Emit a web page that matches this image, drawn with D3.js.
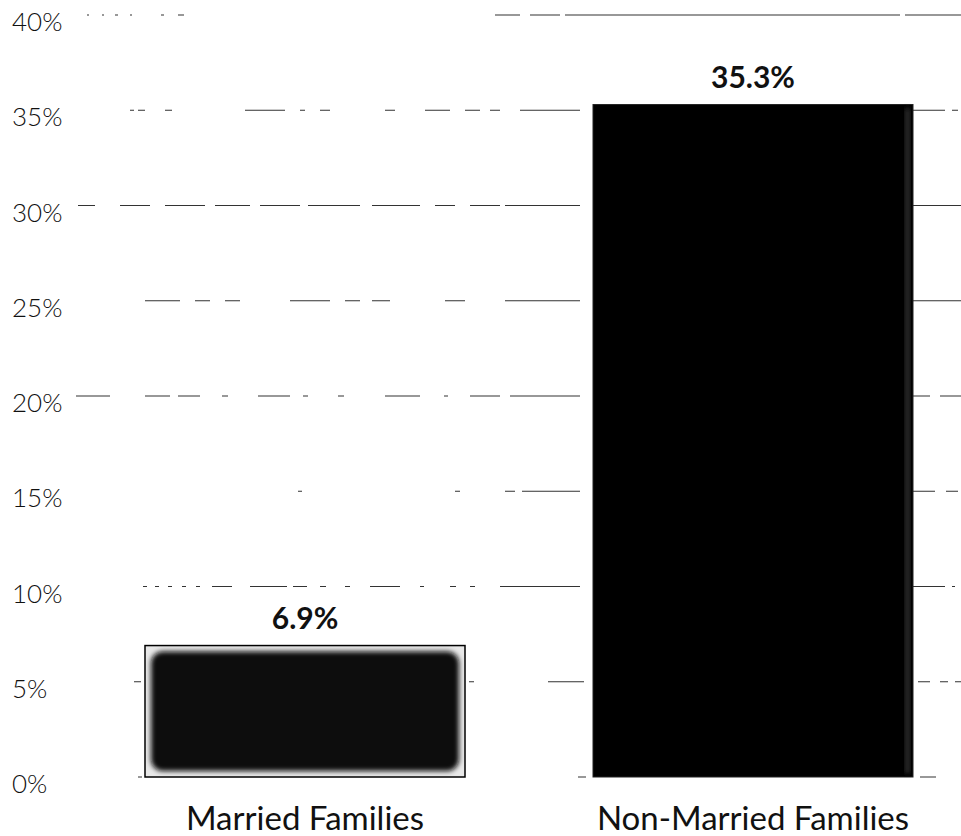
<!DOCTYPE html>
<html>
<head>
<meta charset="utf-8">
<script src="https://cdn.jsdelivr.net/npm/d3@7"></script>
<style>
  body { margin: 0; background: #fff; }
  text { font-family: Lato, "Open Sans", sans-serif; fill: #111; }
</style>
</head>
<body>
<script>
// chart data
const categories = ['Married Families', 'Non-Married Families'];
const values = [6.9, 35.3];
const yTicks = [0, 5, 10, 15, 20, 25, 30, 35, 40];

const width = 961, height = 836;
const gridStart = 76;

// scanned-look texture of each gridline: visible pieces as [from, to]
const gridPieces = [
    [[138, 142], [578, 586], [920, 936]],
    [[134, 141], [469, 474], [548, 584], [918, 930], [940, 948], [955, 961]],
    [[143, 147], [155, 159], [168, 172], [182, 186], [196, 200], [212, 232], [250, 287], [293, 307], [320, 326], [345, 350], [370, 400], [420, 424], [450, 456], [470, 475], [500, 580], [913, 945], [952, 955]],
    [[298, 302], [455, 460], [505, 515], [522, 580], [913, 935], [946, 958]],
    [[76, 110], [145, 170], [178, 200], [222, 228], [258, 290], [303, 308], [338, 344], [385, 420], [444, 448], [470, 500], [510, 580], [913, 930], [940, 961]],
    [[145, 180], [195, 210], [225, 240], [290, 330], [345, 360], [372, 390], [445, 465], [505, 580], [913, 961]],
    [[78, 95], [120, 150], [165, 205], [215, 250], [260, 300], [308, 360], [372, 420], [435, 455], [470, 500], [505, 580], [913, 961]],
    [[130, 134], [138, 145], [165, 172], [245, 285], [300, 305], [320, 330], [385, 395], [425, 450], [465, 480], [490, 500], [520, 580], [913, 945], [952, 958]],
    [[87, 89], [102, 104], [115, 118], [130, 132], [161, 164], [178, 184], [495, 520], [530, 560], [565, 900], [905, 961]]
];

// turn visible pieces into a stroke-dasharray starting at gridStart
function dashFor(pieces) {
    let out = [];
    let pos = gridStart;
    if (pieces[0][0] > pos) {
        out.push(0, pieces[0][0] - pos);
        pos = pieces[0][0];
    }
    pieces.forEach((p, i) => {
        out.push(p[1] - p[0]);
        let next = i + 1 < pieces.length ? pieces[i + 1][0] : width + 400;
        out.push(next - p[1]);
    });
    return out.join(',');
}

let svg = d3.select('body').append('svg')
    .attr('width', width)
    .attr('height', height);

let defs = svg.append('defs');
defs.append('filter')
    .attr('id', 'fuzz')
    .append('feGaussianBlur')
    .attr('stdDeviation', 2.5);

// bars are ~320 wide, centred near 305 and 753
let x = d3.scaleBand()
    .domain(categories)
    .range([145, 913])
    .paddingInner(128 / 448)
    .paddingOuter(0);

let y = d3.scaleLinear()
    .domain([0, 40])
    .range([777, 15]);

// broken dashed gridlines
let grid = svg.append('g');
grid.selectAll('line')
    .data(yTicks)
    .enter()
    .append('line')
    .attr('x1', gridStart)
    .attr('x2', width)
    .attr('y1', (d) => y(d))
    .attr('y2', (d) => y(d))
    .attr('stroke', '#333')
    .attr('stroke-width', 1.1)
    .attr('stroke-dasharray', (d, i) => dashFor(gridPieces[i]));

// y tick labels
svg.append('g').selectAll('text')
    .data(yTicks)
    .enter()
    .append('text')
    .attr('x', 12)
    .attr('y', (d) => y(d) + 16)
    .attr('font-size', 26)
    .attr('font-weight', 300)
    .text((d) => d + '%');

let bars = svg.append('g');

// married: outlined box with fuzzy dark fill
bars.append('rect')
    .attr('x', x(categories[0]))
    .attr('y', y(values[0]))
    .attr('width', x.bandwidth())
    .attr('height', y(0) - y(values[0]))
    .attr('fill', '#e8e8e8')
    .attr('stroke', '#000')
    .attr('stroke-width', 1.5);

bars.append('rect')
    .attr('x', x(categories[0]) + 6)
    .attr('y', y(values[0]) + 6)
    .attr('width', x.bandwidth() - 12)
    .attr('height', y(0) - y(values[0]) - 12)
    .attr('rx', 12)
    .attr('fill', '#0a0a0a')
    .attr('filter', 'url(#fuzz)');

// non-married: solid black with a worn right edge
bars.append('rect')
    .attr('x', x(categories[1]))
    .attr('y', y(values[1]))
    .attr('width', x.bandwidth())
    .attr('height', y(0) - y(values[1]))
    .attr('fill', '#000')
    .attr('stroke', '#222')
    .attr('stroke-width', 1);

bars.append('rect')
    .attr('x', x(categories[1]) + x.bandwidth() - 8)
    .attr('y', y(values[1]) + 4)
    .attr('width', 5)
    .attr('height', y(0) - y(values[1]) - 8)
    .attr('fill', '#333')
    .attr('filter', 'url(#fuzz)');

// value labels
svg.append('g').selectAll('text')
    .data(values)
    .enter()
    .append('text')
    .attr('x', (d, i) => x(categories[i]) + x.bandwidth() / 2)
    .attr('y', (d) => y(d) - 17)
    .attr('text-anchor', 'middle')
    .attr('font-size', 30)
    .attr('font-weight', 'bold')
    .text((d) => d.toFixed(1) + '%');

// category labels
svg.append('g').selectAll('text')
    .data(categories)
    .enter()
    .append('text')
    .attr('x', (d) => x(d) + x.bandwidth() / 2)
    .attr('y', 830)
    .attr('text-anchor', 'middle')
    .attr('font-size', 33)
    .text((d) => d);
</script>
</body>
</html>
